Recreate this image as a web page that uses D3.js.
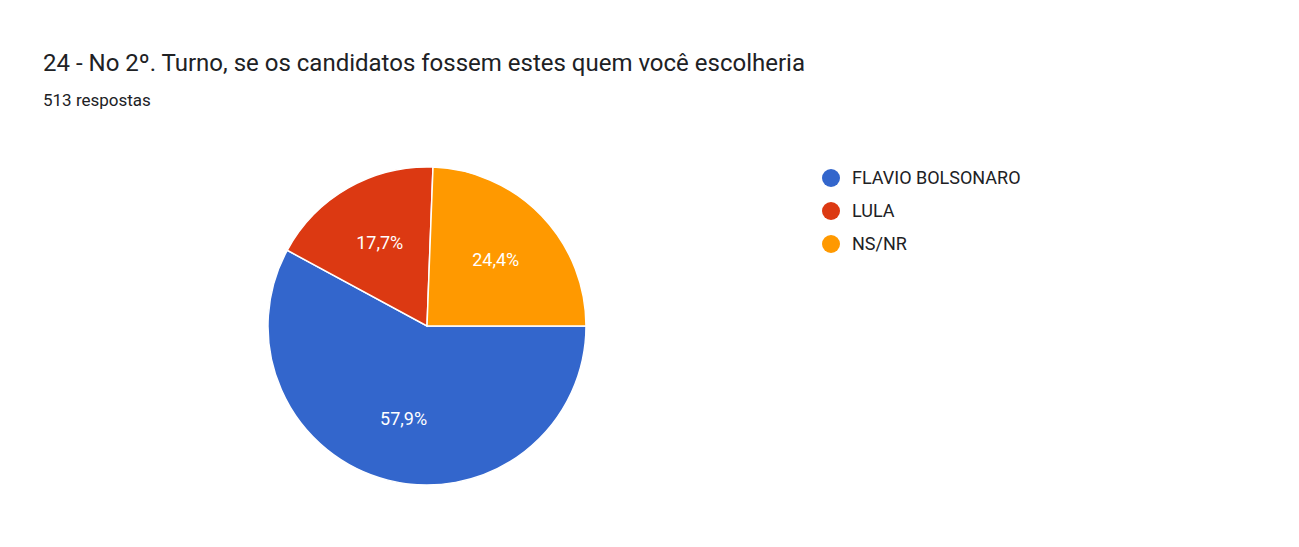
<!DOCTYPE html>
<html><head><meta charset="utf-8">
<script src="https://cdn.jsdelivr.net/npm/d3@7"></script>
<style>body{margin:0;background:#fff;font-family:Roboto,Arial,sans-serif}</style>
</head><body>
<svg id="c" width="1299" height="547"></svg>
<script>
var categories = ['FLAVIO BOLSONARO', 'LULA', 'NS/NR'];
var values = [57.9, 17.7, 24.4];
var labels = ['57,9%', '17,7%', '24,4%'];
var colors = ['#3366cc', '#dc3912', '#ff9900'];

var svg = d3.select('#c');
svg.append('text').attr('x', 43).attr('y', 71).attr('font-size', 24).attr('fill', '#202124')
  .text('24 -  No 2º. Turno, se os candidatos fossem estes quem você escolheria');
svg.append('text').attr('x', 43).attr('y', 106).attr('font-size', 17).attr('fill', '#202124')
  .text('513 respostas');

var cx = 427, cy = 326, r = 159;
var pie = d3.pie().sort(null).startAngle(Math.PI / 2).endAngle(Math.PI / 2 + 2 * Math.PI);
var arcs = pie(values);
var arc = d3.arc().innerRadius(0).outerRadius(r);
var labelArc = d3.arc().innerRadius(r * 0.6).outerRadius(r * 0.6);
var g = svg.append('g').attr('transform', 'translate(' + cx + ',' + cy + ')');
g.selectAll('path').data(arcs).enter().append('path')
  .attr('d', arc).attr('fill', function (d, i) { return colors[i]; })
  .attr('stroke', '#fff').attr('stroke-width', 1.5);
g.selectAll('text').data(arcs).enter().append('text')
  .attr('transform', function (d) { return 'translate(' + labelArc.centroid(d) + ')'; })
  .attr('text-anchor', 'middle').attr('dy', '0.35em')
  .attr('fill', '#fff').attr('font-size', 18)
  .text(function (d, i) { return labels[i]; });

var lg = svg.append('g').selectAll('g').data(categories).enter().append('g')
  .attr('transform', function (d, i) { return 'translate(831,' + (178 + i * 33) + ')'; });
lg.append('circle').attr('r', 9).attr('fill', function (d, i) { return colors[i]; });
lg.append('text').attr('x', 21).attr('dy', '0.35em').attr('font-size', 18).attr('fill', '#202124')
  .text(function (d) { return d; });
</script>
</body></html>
